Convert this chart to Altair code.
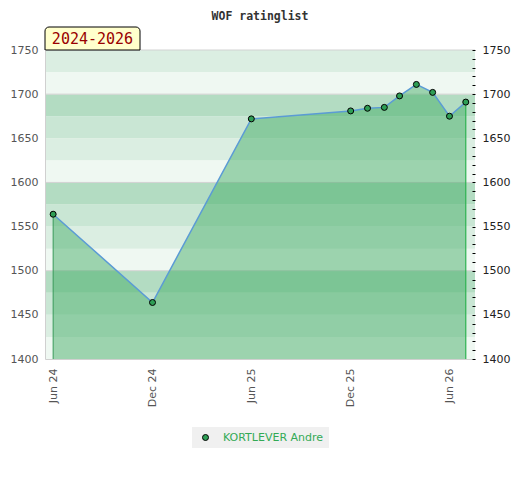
import altair as alt
import pandas as pd

# ---- data ----
player = "KORTLEVER Andre"
dates = ["2024-06-01", "2024-12-01", "2025-06-01", "2025-12-01", "2026-01-01",
         "2026-02-01", "2026-03-01", "2026-04-01", "2026-05-01", "2026-06-01",
         "2026-07-01"]
ratings = [1564, 1464, 1672, 1681, 1684, 1685, 1698, 1711, 1702, 1675, 1691]

band_lo = [1400, 1425, 1450, 1475, 1500, 1525, 1550, 1575, 1600, 1625, 1650, 1675, 1700, 1725]
band_hi = [1425, 1450, 1475, 1500, 1525, 1550, 1575, 1600, 1625, 1650, 1675, 1700, 1725, 1750]
band_tier = ["t0", "t1", "t2", "t3", "t0", "t1", "t2", "t3", "t0", "t1", "t2", "t3", "t0", "t1"]
grid_values = [1500, 1600, 1700, 1750]
period_label = "2024-2026"
chart_title = "WOF ratinglist"

df = pd.DataFrame({"date": dates, "rating": ratings, "player": [player] * len(dates)})
bands = pd.DataFrame({"lo": band_lo, "hi": band_hi, "tier": band_tier})
grid = pd.DataFrame({"v": grid_values})
box = pd.DataFrame({"label": [period_label]})

W, H = 430, 309

xscale = alt.Scale(domain=[alt.DateTime(year=2024, month=5, date=17),
                           alt.DateTime(year=2026, month=7, date=18)])
yscale = alt.Scale(domain=[1400, 1750], nice=False, zero=False)

xaxis = alt.Axis(
    values=[alt.DateTime(year=2024, month=6, date=1), alt.DateTime(year=2024, month=12, date=1),
            alt.DateTime(year=2025, month=6, date=1), alt.DateTime(year=2025, month=12, date=1),
            alt.DateTime(year=2026, month=6, date=1)],
    format="%b %y", labelAngle=270, labelAlign="right", labelBaseline="middle",
    ticks=False, grid=False, domainColor="#d0d0d0", labelColor="#555555",
    labelFontSize=11, labelPadding=9, zindex=1, title=None)

X = alt.X("date:T", scale=xscale, axis=xaxis, title=None)

left_axis = alt.Axis(orient="left", values=[1400, 1450, 1500, 1550, 1600, 1650, 1700, 1750],
                     format="d", ticks=False, grid=False, domainColor="#d0d0d0",
                     labelColor="#555555", labelFontSize=11, labelPadding=7, zindex=1,
                     title=None)
right_axis = alt.Axis(orient="right", values=list(range(1400, 1751, 10)), format="d",
                      labelExpr="datum.value % 50 == 0 ? datum.label : ''",
                      labelOverlap=False, tickSize=3, tickColor="#000000", offset=-3,
                      domain=False, grid=False, labelColor="#222222", labelFontSize=11,
                      labelPadding=7, zindex=1, title=None)

band_layer = alt.Chart(bands).mark_rect().encode(
    y=alt.Y("lo:Q", scale=yscale, axis=left_axis),
    y2="hi:Q",
    fill=alt.Fill("tier:N", scale=alt.Scale(domain=["t0", "t1", "t2", "t3"],
                                            range=["#eff8f2", "#dbeee2", "#c9e6d4", "#b3dcc2"]),
                  legend=None),
)

grid_layer = alt.Chart(grid).mark_rule(color="#d2d2d2", strokeWidth=1).encode(
    y=alt.Y("v:Q", scale=yscale, axis=None)
)

area_layer = alt.Chart(df).mark_area(color="#40ab64", opacity=0.48).encode(
    x=X, y=alt.Y("rating:Q", scale=yscale, axis=None), y2=alt.datum(1400)
)

line_layer = alt.Chart(df).mark_line(color="#5b9bd5", strokeWidth=1.5).encode(
    x=X, y=alt.Y("rating:Q", scale=yscale, axis=None)
)

first_rule = alt.Chart(df.iloc[[0]]).mark_rule(color="#3a9a5a", strokeWidth=1).encode(
    x=X, y=alt.Y("rating:Q", scale=yscale, axis=None), y2=alt.datum(1400)
)
last_rule = alt.Chart(df.iloc[[-1]]).mark_rule(color="#2db350", strokeWidth=1.2).encode(
    x=X, y=alt.Y("rating:Q", scale=yscale, axis=None), y2=alt.datum(1400)
)

point_layer = alt.Chart(df).mark_point(filled=True, size=36, stroke="#000000",
                                       strokeWidth=1, opacity=1).encode(
    x=X,
    y=alt.Y("rating:Q", scale=yscale, axis=right_axis),
    color=alt.Color("player:N", scale=alt.Scale(range=["#2e9e55"]),
                    legend=alt.Legend(orient="none", legendX=147, legendY=377, title=None,
                                      fillColor="#f0f0f0", padding=5, labelColor="#33aa55",
                                      labelFontSize=11, labelOffset=12, symbolType="circle",
                                      symbolSize=36, symbolStrokeColor="#000000",
                                      symbolStrokeWidth=1, symbolOpacity=1,
                                      symbolOffset=3)),
)

box_rect = alt.Chart(box).mark_rect(fill="#ffffcc", stroke="#000000", strokeWidth=1,
                                    cornerRadiusTopLeft=4, cornerRadiusTopRight=4).encode(
    x=alt.value(0), x2=alt.value(95), y=alt.value(-23), y2=alt.value(0)
)
box_text = alt.Chart(box).mark_text(font="DejaVu Sans Mono", fontSize=15, color="#990000",
                                    align="center", baseline="middle").encode(
    x=alt.value(47.5), y=alt.value(-11), text="label:N"
)

chart = alt.layer(
    band_layer, grid_layer, area_layer, line_layer, first_rule, last_rule, point_layer,
    box_rect, box_text
).resolve_axis(y="independent").properties(
    width=W, height=H,
    title=alt.TitleParams(chart_title, font="DejaVu Sans Mono", fontSize=11.5,
                          fontWeight="bold", color="#333333", anchor="middle", offset=4,
                          frame="group"),
    autosize=alt.AutoSizeParams(type="none"),
    padding={"left": 37, "top": 42, "right": 37, "bottom": 113},
).configure(font="DejaVu Sans").configure_view(stroke=None)

chart.save("out.html", embed_options={"renderer": "svg", "actions": False})
